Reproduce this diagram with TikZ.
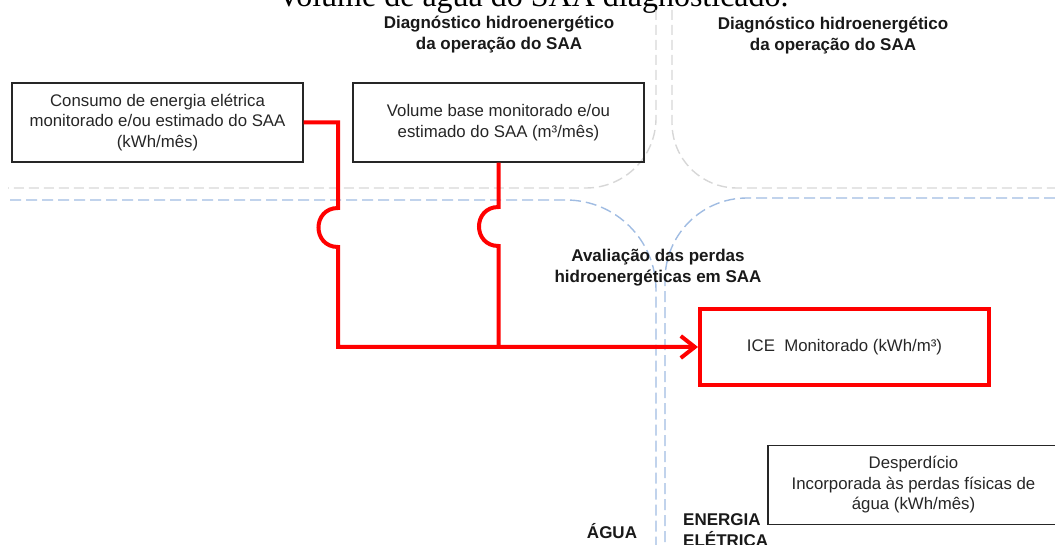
\documentclass[tikz,border=0pt]{standalone}
\usepackage{fontspec}
\usepackage{xcolor}
\setmainfont{Liberation Sans}
\newfontfamily\titlefont{Liberation Serif}
\usetikzlibrary{arrows.meta}
\definecolor{linegray}{RGB}{215,215,215}
\definecolor{lineblue}{RGB}{160,188,226}
\definecolor{flowred}{RGB}{255,0,0}
\tikzset{
	box/.style={draw=black!85, line width=1.4pt, minimum width=291pt, minimum height=79pt, inner sep=0pt, align=center, text=black!85, font=\fontsize{16.8}{20.5}\selectfont},
	areatext/.style={align=center, inner sep=0pt, text=black!90, font=\fontsize{17}{21}\selectfont\bfseries},
	grayline/.style={linegray, line width=1.4pt, dash pattern=on 10pt off 5pt},
	blueline/.style={lineblue, line width=1.4pt, dash pattern=on 11pt off 5pt},
	flow/.style={flowred, line width=4pt},
}

\begin{document}
\begin{tikzpicture}[x=1pt,y=-1pt]
	\path[use as bounding box] (0,0) rectangle (1055,545);
	\clip (0,0) rectangle (1055,545);

	\node[anchor=base, font=\titlefont\fontsize{32}{36}\selectfont] (title) at (533,7) {Volume de água do SAA diagnosticado.};

	\draw[grayline, rounded corners=70pt] (656,10)--(656,188)--(8,188);
	\draw[grayline, rounded corners=65pt] (672,10)--(672,188)--(1055,188);
	\draw[blueline, rounded corners=90pt] (10,200)--(656,200)--(656,545);
	\draw[blueline, rounded corners=82pt] (1055,198)--(665,198)--(665,545);

	\node[areatext] (diagA) at (499,35) {Diagnóstico hidroenergético\\da operação do SAA};
	\node[areatext] (diagB) at (833,36) {Diagnóstico hidroenergético\\da operação do SAA};
	\node[areatext] (perdas) at (658,268) {Avaliação das perdas\\hidroenergéticas em SAA};
	\node[areatext, anchor=base] (agua) at (612,538) {ÁGUA};
	\node[areatext, anchor=north west, align=left] (energia) at (683,513) {ENERGIA\\ELÉTRICA};

	\node[box] (consumo) at (157.5,122.5) {Consumo de energia elétrica\\monitorado e/ou estimado do SAA\\(kWh/mês)};
	\node[box] (volume) at (498.5,122.5) {Volume base monitorado e/ou\\estimado do SAA (m³/mês)};
	\node[box, draw=flowred, line width=4pt, minimum width=289pt, minimum height=76pt] (ice) at (844.5,347) {ICE~ Monitorado (kWh/m³)};
	\node[box] (desperdicio) at (913.5,485) {Desperdício\\Incorporada às perdas físicas de\\água (kWh/mês)};

	\draw[flow, -{Straight Barb[length=14pt,width=22pt]}] (consumo.east) -| (338,208) .. controls (312,208) and (312,247) .. (338,247) |- (ice.west);
	\draw[flow] (volume.south) -- (498.5,207) .. controls (472.5,207) and (472.5,246) .. (498.5,246) -- (volume.south |- ice.west);
\end{tikzpicture}
\end{document}
